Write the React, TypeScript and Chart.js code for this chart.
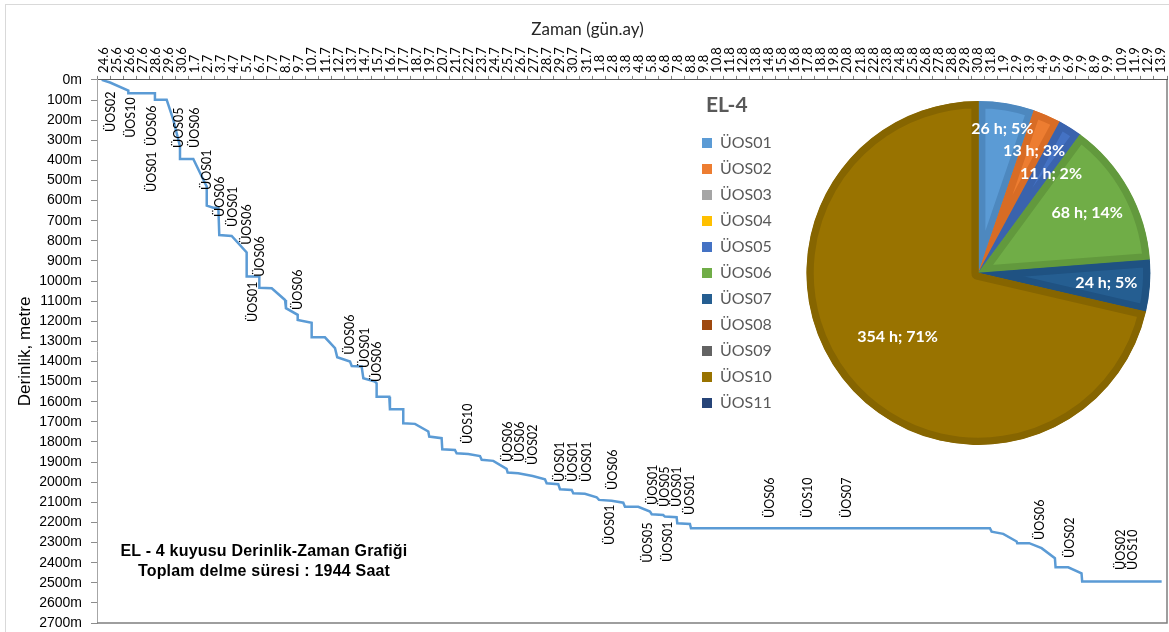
import React, { useEffect, useRef } from "react";
import { Chart, registerables } from "chart.js";

Chart.register(...registerables);

// ---- time axis labels (gün.ay) ----
const dateLabels = [
  "24.6", "25.6", "26.6", "27.6", "28.6", "29.6", "30.6",
  "1.7", "2.7", "3.7", "4.7", "5.7", "6.7", "7.7", "8.7", "9.7", "10.7",
  "11.7", "12.7", "13.7", "14.7", "15.7", "16.7", "17.7", "18.7", "19.7", "20.7",
  "21.7", "22.7", "23.7", "24.7", "25.7", "26.7", "27.7", "28.7", "29.7", "30.7", "31.7",
  "1.8", "2.8", "3.8", "4.8", "5.8", "6.8", "7.8", "8.8", "9.8", "10.8",
  "11.8", "12.8", "13.8", "14.8", "15.8", "16.8", "17.8", "18.8", "19.8", "20.8",
  "21.8", "22.8", "23.8", "24.8", "25.8", "26.8", "27.8", "28.8", "29.8", "30.8", "31.8",
  "1.9", "2.9", "3.9", "4.9", "5.9", "6.9", "7.9", "8.9", "9.9", "10.9",
  "11.9", "12.9", "13.9",
];

// ---- depth-time curve: days after 24.6, depth in metres ----
const drillDays = [
  -0.14, 0.5, 1.9, 1.9, 3.94, 3.94, 4.84, 5.35, 5.86, 5.86,
  6.88, 7.78, 7.91, 7.91, 8.41, 8.8, 8.87, 9.82, 10.97, 10.97,
  11.94, 11.94, 12.89, 13.91, 13.98, 14.88, 14.88, 15.95, 15.95, 16.97,
  17.74, 17.91, 18.89, 19.02, 19.78, 19.91, 20.8, 20.93, 20.93, 21.9,
  21.95, 22.97, 22.97, 23.87, 24.89, 24.96, 25.91, 25.96, 26.93, 27.06,
  27.95, 28.85, 28.98, 29.87, 30.89, 30.97, 31.78, 32.89, 33.83, 33.96,
  34.85, 34.98, 35.88, 36.0, 36.89, 37.79, 37.97, 38.94, 39.83, 39.96,
  40.98, 41.88, 42.01, 42.89, 43.02, 43.92, 43.97, 44.94, 45.02, 67.93,
  68.06, 68.95, 69.98, 70.02, 70.94, 71.89, 72.91, 72.96, 73.93, 74.95,
  75.0, 81.09,
];
const drillDepths = [
  0, 13, 53, 66, 66, 99, 99, 199, 331, 393,
  393, 514, 530, 625, 635, 635, 771, 776, 858, 978,
  978, 1033, 1036, 1094, 1135, 1168, 1193, 1207, 1280, 1280,
  1334, 1379, 1400, 1422, 1425, 1483, 1500, 1508, 1575, 1575,
  1637, 1637, 1707, 1710, 1748, 1773, 1781, 1836, 1840, 1856,
  1860, 1870, 1889, 1894, 1934, 1952, 1956, 1969, 1985, 2005,
  2010, 2035, 2039, 2055, 2058, 2075, 2088, 2092, 2102, 2122,
  2122, 2146, 2159, 2163, 2171, 2174, 2204, 2208, 2229, 2229,
  2246, 2257, 2295, 2303, 2303, 2328, 2378, 2423, 2423, 2453,
  2494, 2494,
];

// ---- operation notes along the curve (text, day, depth where text starts) ----
const noteTexts = [
  "ÜOS02", "ÜOS10", "ÜOS06", "ÜOS01", "ÜOS05", "ÜOS06", "ÜOS01", "ÜOS06", "ÜOS01", "ÜOS06",
  "ÜOS06", "ÜOS01", "ÜOS06", "ÜOS06", "ÜOS01", "ÜOS06", "ÜOS10", "ÜOS06", "ÜOS06", "ÜOS02",
  "ÜOS01", "ÜOS01", "ÜOS01", "ÜOS06", "ÜOS01", "ÜOS01", "ÜOS05", "ÜOS01", "ÜOS01", "ÜOS05",
  "ÜOS01", "ÜOS06", "ÜOS10", "ÜOS07", "ÜOS06", "ÜOS02", "ÜOS02", "ÜOS10",
];
const noteDays = [
  0.57, 2.11, 3.71, 3.71, 5.78, 7.01, 7.93, 8.93, 9.92, 10.99,
  11.99, 11.45, 14.9, 18.89, 20.04, 20.96, 27.93, 30.99, 31.91, 32.91,
  34.98, 35.98, 37.05, 39.04, 38.81, 42.1, 43.02, 43.94, 44.94, 41.72,
  43.25, 51.07, 53.98, 56.97, 71.76, 74.06, 77.97, 78.89,
];
const noteDepths = [
  259, 288, 328, 557, 338, 338, 547, 681, 731, 820,
  979, 1203, 1144, 1367, 1432, 1502, 1810, 1899, 1899, 1914,
  1999, 1999, 1999, 2039, 2312, 2113, 2123, 2123, 2163, 2401,
  2397, 2178, 2178, 2178, 2287, 2377, 2436, 2436,
];

// ---- pie: hours per operation ----
const pieTitle = "EL-4";
const pieLabels = [
  "ÜOS01", "ÜOS02", "ÜOS03", "ÜOS04", "ÜOS05", "ÜOS06",
  "ÜOS07", "ÜOS08", "ÜOS09", "ÜOS10", "ÜOS11",
];
const pieHours = [26, 13, 0, 0, 11, 68, 24, 0, 0, 354, 0];
const pieColors = [
  "#5B9BD5", "#ED7D31", "#A5A5A5", "#FFC000", "#4472C4", "#70AD47",
  "#255E91", "#9E480E", "#636363", "#997300", "#264478",
];
const pieEdgeColors = [
  "#4d88bf", "#d86c25", "#949494", "#e6ad00", "#3a63ad", "#62993d",
  "#1f5282", "#8c3f0c", "#555555", "#866500", "#203b69",
];

const LATO = "Lato, 'Open Sans', sans-serif";
const ARIAL = "Arial, 'Liberation Sans', sans-serif";
const TICK_FONT_SIZE = 13;

const framePlugin = {
  id: "plotFrame",
  afterDraw(chart: any) {
    const { ctx, chartArea } = chart;
    const { left, top, right, bottom } = chartArea;
    ctx.save();
    ctx.strokeStyle = "#7f7f7f";
    ctx.lineWidth = 1.5;
    ctx.beginPath();
    ctx.moveTo(left, bottom);
    ctx.lineTo(right, bottom);
    ctx.lineTo(right, top);
    ctx.stroke();
    ctx.restore();
  },
};

const notesPlugin = {
  id: "notes",
  afterDatasetsDraw(chart: any) {
    const xs = chart.scales.xd;
    const ys = chart.scales.y;
    const ctx = chart.ctx;
    ctx.save();
    ctx.font = `12.5px ${LATO}`;
    ctx.fillStyle = "#000000";
    ctx.textAlign = "left";
    ctx.textBaseline = "middle";
    noteTexts.forEach((t, i) => {
      const x = xs.getPixelForValue(noteDays[i]);
      const y = ys.getPixelForValue(noteDepths[i]);
      ctx.save();
      ctx.translate(x, y);
      ctx.rotate(-Math.PI / 2);
      ctx.fillText(t, 0, 0);
      ctx.restore();
    });
    ctx.restore();
  },
};

const pieTextPlugin = {
  id: "pieText",
  afterDatasetsDraw(chart: any) {
    const meta = chart.getDatasetMeta(0);
    const ctx = chart.ctx;
    const total = pieHours.reduce((a, b) => a + b, 0);
    ctx.save();
    ctx.font = `bold 16px ${LATO}`;
    ctx.fillStyle = "#ffffff";
    ctx.textAlign = "center";
    ctx.textBaseline = "middle";
    const placed: { x0: number; x1: number; y0: number; y1: number }[] = [];
    meta.data.forEach((arc: any, i: number) => {
      const v = pieHours[i];
      if (!v) return;
      const p = arc.getProps(["x", "y", "startAngle", "endAngle", "outerRadius"], true);
      const mid = (p.startAngle + p.endAngle) / 2;
      const c = Math.cos(mid);
      const s = Math.sin(mid);
      const text = `${v} h; ${Math.round((v / total) * 100)}%`;
      const w = ctx.measureText(text).width;
      const h = 18;
      const d =
        v / total > 0.5
          ? p.outerRadius * 0.6
          : p.outerRadius - (Math.abs(c) * w) / 2 - (Math.abs(s) * h) / 2 - 12;
      const lx = p.x + c * d;
      let ly = p.y + s * d;
      const hits = (yy: number) =>
        placed.some(
          (b) => lx - w / 2 < b.x1 && lx + w / 2 > b.x0 && yy - h / 2 < b.y1 && yy + h / 2 > b.y0
        );
      let guard = 0;
      while (hits(ly) && guard < 100) {
        ly += 2;
        guard++;
      }
      placed.push({ x0: lx - w / 2, x1: lx + w / 2, y0: ly - h / 2 - 4, y1: ly + h / 2 + 4 });
      ctx.fillText(text, lx, ly);
    });
    ctx.restore();
  },
};

function DepthChart() {
  const ref = useRef<HTMLCanvasElement | null>(null);
  useEffect(() => {
    if (!ref.current) return;
    const chart = new Chart(ref.current, {
      type: "line",
      data: {
        datasets: [
          {
            label: "EL-4",
            data: drillDays.map((d, i) => ({ x: d, y: drillDepths[i] })),
            xAxisID: "xd",
            yAxisID: "y",
            borderColor: "#5B9BD5",
            borderWidth: 2.5,
            pointRadius: 0,
            fill: false,
            tension: 0,
          },
        ],
      },
      options: {
        animation: false,
        responsive: false,
        layout: { padding: { left: 8, top: 8, right: 2, bottom: 9 } },
        plugins: {
          legend: { display: false },
          tooltip: { enabled: false },
          title: {
            display: true,
            text: "Zaman (gün.ay)",
            color: "#262626",
            font: { family: LATO, size: 17, weight: "normal" },
            padding: { top: 11, bottom: 0 },
          },
        },
        scales: {
          x: {
            type: "category",
            labels: dateLabels,
            min: dateLabels[0],
            max: dateLabels[dateLabels.length - 1],
            position: "top",
            offset: true,
            grid: {
              offset: true,
              drawOnChartArea: false,
              drawTicks: true,
              tickLength: 4,
              color: "#7f7f7f",
            },
            border: { color: "#595959", width: 1 },
            ticks: {
              autoSkip: false,
              minRotation: 90,
              maxRotation: 90,
              padding: 3,
              labelOffset: TICK_FONT_SIZE * 1.2,
              color: "#000000",
              font: { family: LATO, size: TICK_FONT_SIZE },
            },
            afterFit: (s: any) => {
              s.height = 40.5;
              s.paddingLeft = 0;
              s.paddingRight = 0;
            },
          },
          xd: {
            type: "linear",
            axis: "x",
            display: false,
            min: -0.5,
            max: dateLabels.length - 0.5,
          },
          y: {
            type: "linear",
            reverse: true,
            min: 0,
            max: 2700,
            grid: {
              drawOnChartArea: false,
              drawTicks: true,
              tickLength: 6,
              color: "#8c8c8c",
            },
            border: { color: "#a6a6a6", width: 1 },
            ticks: {
              stepSize: 100,
              padding: 9,
              color: "#000000",
              font: { family: ARIAL, size: 14 },
              callback: (v: any) => `${v}m`,
            },
            title: {
              display: true,
              text: "Derinlik, metre",
              color: "#000000",
              font: { family: ARIAL, size: 17 },
              padding: { top: 7, bottom: 0 },
            },
            afterFit: (s: any) => {
              s.width = 89;
              s.paddingTop = 0;
              s.paddingBottom = 0;
            },
          },
        },
      } as any,
      plugins: [framePlugin, notesPlugin],
    });
    return () => chart.destroy();
  }, []);
  return <canvas ref={ref} width={1169} height={632} style={{ position: "absolute", left: 0, top: 0 }} />;
}

function PieChart() {
  const ref = useRef<HTMLCanvasElement | null>(null);
  useEffect(() => {
    if (!ref.current) return;
    const chart = new Chart(ref.current, {
      type: "pie",
      data: {
        labels: pieLabels,
        datasets: [
          {
            data: pieHours,
            backgroundColor: pieColors,
            borderColor: pieEdgeColors,
            borderAlign: "inner",
            borderWidth: (c: any) => (c.raw > 0 ? 7 : 0),
          },
        ],
      },
      options: {
        animation: false,
        responsive: false,
        layout: { padding: { left: 0, top: 13, right: 0, bottom: 5 } },
        plugins: {
          tooltip: { enabled: false },
          legend: {
            display: true,
            position: "left",
            align: "center",
            labels: {
              boxWidth: 10,
              boxHeight: 10,
              padding: 10,
              color: "#595959",
              font: { family: LATO, size: 16 },
              generateLabels: (ch: any) => {
                const base = (Chart as any).overrides.pie.plugins.legend.labels.generateLabels(ch);
                return base.map((it: any) => ({
                  ...it,
                  lineWidth: 0,
                  strokeStyle: it.fillStyle,
                  fontColor: "#595959",
                }));
              },
            },
          },
        },
      } as any,
      plugins: [pieTextPlugin],
    });
    return () => chart.destroy();
  }, []);
  return <canvas ref={ref} width={483} height={362} style={{ position: "absolute", left: 692, top: 88 }} />;
}

export default function App() {
  return (
    <div
      style={{
        position: "absolute",
        left: 0,
        top: 0,
        width: 1169,
        height: 632,
        overflow: "hidden",
        background: "#ffffff",
      }}
    >
      <div
        style={{
          position: "absolute",
          left: 5,
          top: 4,
          width: 1300,
          height: 800,
          border: "1px solid #d9d9d9",
        }}
      />
      <DepthChart />
      <PieChart />
      <div
        style={{
          position: "absolute",
          left: 706,
          top: 91,
          fontFamily: LATO,
          fontWeight: "bold",
          fontSize: 21,
          lineHeight: "26px",
          color: "#595959",
        }}
      >
        {pieTitle}
      </div>
      <div
        style={{
          position: "absolute",
          left: 104,
          top: 541,
          width: 320,
          textAlign: "center",
          fontFamily: ARIAL,
          fontWeight: "bold",
          fontSize: 16,
          letterSpacing: 0.2,
          lineHeight: "20px",
          color: "#000000",
        }}
      >
        <div>EL - 4 kuyusu Derinlik-Zaman Grafiği</div>
        <div>Toplam delme süresi : 1944 Saat</div>
      </div>
    </div>
  );
}
